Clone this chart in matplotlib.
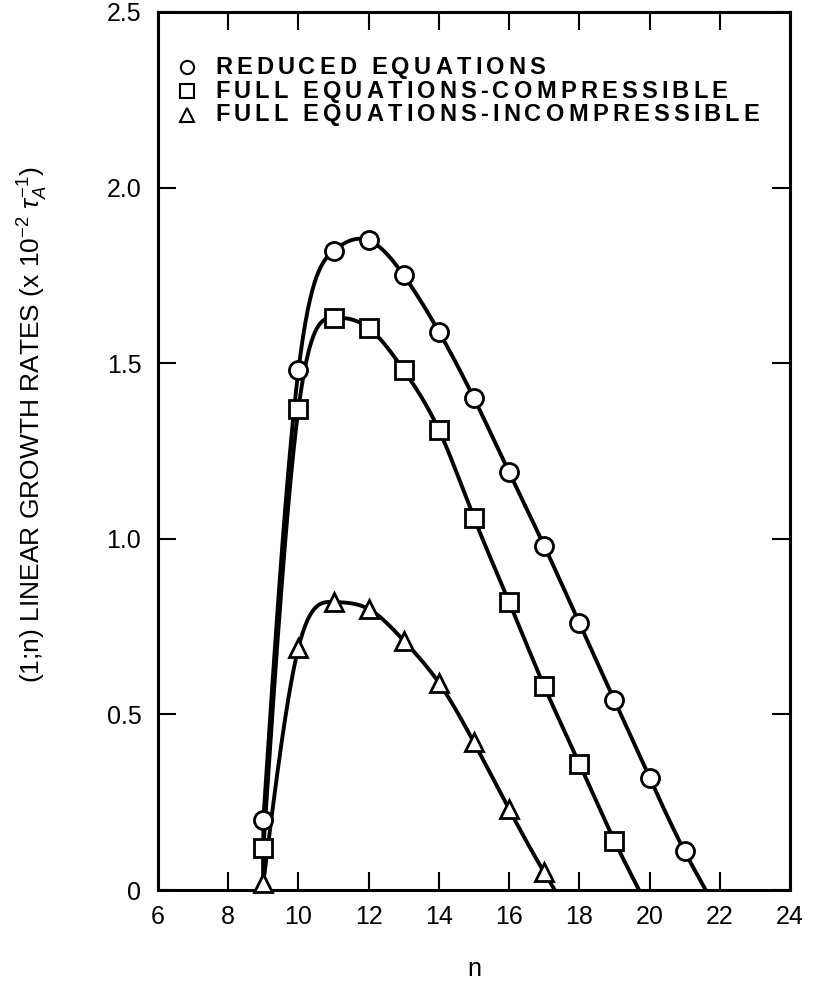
import numpy as np
import matplotlib.pyplot as plt
from matplotlib.font_manager import FontProperties, findfont, get_font
from matplotlib.transforms import offset_copy

plt.rcParams["font.family"] = ["Liberation Sans", "DejaVu Sans"]
plt.rcParams["mathtext.fontset"] = "custom"
plt.rcParams["mathtext.rm"] = "Liberation Sans"
plt.rcParams["mathtext.it"] = "Liberation Sans:italic"

# growth rates of the (1;n) modes, units of 1e-2 / tau_A
N_REDUCED = list(range(9, 22))
REDUCED = [0.20, 1.48, 1.82, 1.85, 1.75, 1.59, 1.40, 1.19, 0.98, 0.76, 0.54, 0.32, 0.11]
N_COMP = list(range(9, 20))
COMP = [0.12, 1.37, 1.63, 1.60, 1.48, 1.31, 1.06, 0.82, 0.58, 0.36, 0.14]
N_INCOMP = list(range(9, 18))
INCOMP = [0.02, 0.69, 0.82, 0.80, 0.71, 0.59, 0.42, 0.23, 0.05]

# n where the curves leave / return to zero growth
N_ONSET = 9.0
N_CUTOFF = [21.6, 19.7, 17.3]

LABELS = ["REDUCED EQUATIONS", "FULL EQUATIONS-COMPRESSIBLE",
          "FULL EQUATIONS-INCOMPRESSIBLE"]
MARKERS = ["o", "s", "^"]


def natural_spline(x, y, num=400):
    x = np.asarray(x, float)
    y = np.asarray(y, float)
    h = np.diff(x)
    n = len(x)
    A = np.zeros((n, n))
    r = np.zeros(n)
    A[0, 0] = A[-1, -1] = 1.0
    for i in range(1, n - 1):
        A[i, i - 1] = h[i - 1]
        A[i, i] = 2 * (h[i - 1] + h[i])
        A[i, i + 1] = h[i]
        r[i] = 6 * ((y[i + 1] - y[i]) / h[i] - (y[i] - y[i - 1]) / h[i - 1])
    m = np.linalg.solve(A, r)
    xs = np.linspace(x[0], x[-1], num)
    k = np.clip(np.searchsorted(x, xs) - 1, 0, n - 2)
    t0 = x[k + 1] - xs
    t1 = xs - x[k]
    ys = ((m[k] * t0**3 + m[k + 1] * t1**3) / (6 * h[k])
          + (y[k] / h[k] - m[k] * h[k] / 6) * t0
          + (y[k + 1] / h[k] - m[k + 1] * h[k] / 6) * t1)
    return xs, ys


def tracked_text(ax, x, y, s, size, track=3.0, weight="bold"):
    # typewriter-style lettering: one glyph at a time with extra spacing (pt)
    fp = FontProperties(family="Liberation Sans", weight=weight)
    font = get_font(findfont(fp))
    font.set_size(size, 72)
    dx = 0.0
    for ch in s:
        tr = offset_copy(ax.transAxes, fig=ax.figure, x=dx, y=0, units="points")
        ax.text(x, y, ch, transform=tr, va="center", ha="left", fontsize=size,
                fontweight=weight)
        dx += font.load_char(ord(ch)).linearHoriAdvance / 65536 + track


W, H = 814, 981
fig = plt.figure(figsize=(W / 100, H / 100), dpi=100)
ax = fig.add_axes([158 / W, 1 - 890 / H, (790 - 158) / W, (890 - 12) / H])

series = [(N_REDUCED, REDUCED), (N_COMP, COMP), (N_INCOMP, INCOMP)]
for (n, vals), cut, mk in zip(series, N_CUTOFF, MARKERS):
    xs, ys = natural_spline(list(n) + [cut], list(vals) + [0.0])
    ax.plot(np.r_[N_ONSET, xs], np.r_[0.0, ys], color="black", lw=2.8,
            solid_capstyle="butt", zorder=2)
    ax.plot(n, vals, ls="none", marker=mk, ms=13, mfc="white", mec="black",
            mew=2.0, zorder=3, clip_on=False)

# legend drawn by hand, markers then labels
for i, (lab, mk) in enumerate(zip(LABELS, MARKERS)):
    y = 0.937 - i * 0.027
    ax.plot([0.046], [y], marker=mk, ms=9.5, mfc="white", mec="black", mew=1.5,
            transform=ax.transAxes, ls="none", clip_on=False)
    tracked_text(ax, 0.090, y, lab, 17)

ax.set_xlim(6, 24)
ax.set_ylim(0, 2.5)
ax.set_xticks(range(6, 25, 2))
ax.set_yticks([0, 0.5, 1.0, 1.5, 2.0, 2.5])
ax.set_yticklabels(["0", "0.5", "1.0", "1.5", "2.0", "2.5"])
ax.tick_params(direction="in", length=13, width=1.5, top=True, right=True,
               labelsize=18)
ax.tick_params(axis="x", pad=11)
ax.tick_params(axis="y", pad=12)
for sp in ax.spines.values():
    sp.set_linewidth(2.2)

ax.set_xlabel("n", fontsize=18, labelpad=20)
fig.text(33 / W, 1 - 425 / H,
         r"(1;n) LINEAR GROWTH RATES (x 10$^{-2}$ $\tau_A^{-1}$)",
         rotation=90, ha="center", va="center", fontsize=19)

fig.savefig("out.png", dpi=100)
